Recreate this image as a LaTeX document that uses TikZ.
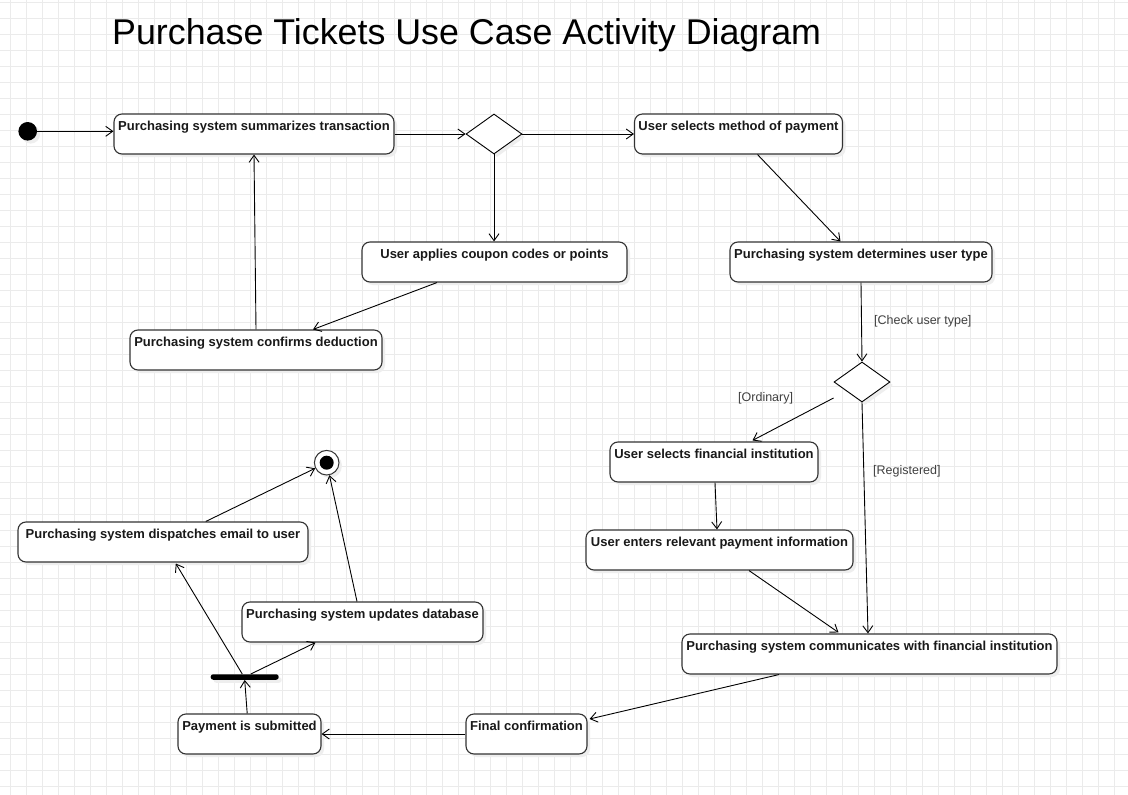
\documentclass[tikz,border=0pt]{standalone}
\usepackage{fontspec}
\setmainfont{Liberation Sans}
\usetikzlibrary{arrows.meta,shapes.geometric,shadows,calc}
\definecolor{gridc}{HTML}{EBEBEB}
\definecolor{boxc}{HTML}{333333}
\definecolor{shadc}{HTML}{EEEEEE}
\definecolor{labc}{HTML}{404040}
\tikzset{
  act/.style={draw=boxc, line width=1.1pt, fill=white, rounded corners=8pt,
    inner sep=0pt, minimum height=40pt, text height=16pt, text depth=24pt,
    font=\fontsize{13}{15}\selectfont\bfseries, text=black!90,
    drop shadow={shadow xshift=3pt, shadow yshift=-3pt, fill=shadc, opacity=1}},
  dec/.style={diamond, draw=black, line width=0.9pt, fill=white, aspect=1.4,
    minimum width=56pt, minimum height=40pt, inner sep=0pt,
    drop shadow={shadow xshift=3pt, shadow yshift=-3pt, fill=shadc, opacity=1}},
  forkbar/.style={rectangle, fill=black, minimum width=68pt, minimum height=5.5pt,
    inner sep=0pt, rounded corners=2.5pt,
    drop shadow={shadow xshift=3pt, shadow yshift=-3pt, fill=shadc, opacity=1}},
  startnode/.style={circle, fill=black, minimum size=18.6pt, inner sep=0pt,
    drop shadow={shadow xshift=3pt, shadow yshift=-3pt, fill=shadc, opacity=1}},
  endnode/.style={circle, draw=boxc, line width=1pt, fill=white, minimum size=24.6pt, inner sep=0pt,
    drop shadow={shadow xshift=3pt, shadow yshift=-3pt, fill=shadc, opacity=1}},
  flow/.style={-{Straight Barb[length=7pt,width=10pt]}, line width=0.9pt, draw=black},
  guard/.style={anchor=base west, inner sep=0pt, text=labc, font=\fontsize{12.5}{14}\selectfont},
  gridline/.style={draw=gridc, line width=0.8pt}
}
\begin{document}
\begin{tikzpicture}[x=1pt,y=-1pt]
\useasboundingbox (0,0) rectangle (1128,795);
\fill[white] (0,0) rectangle (1128,795);
\foreach \gx in {10,26,...,1128} {\draw[gridline] (\gx,0) -- (\gx,795);}
\foreach \gy in {2.7,18.7,...,795} {\draw[gridline] (0,\gy) -- (1128,\gy);}

\node[anchor=base west, inner sep=0pt, font=\fontsize{35.8}{40}\selectfont] (title) at (112,44) {Purchase Tickets Use Case Activity Diagram};

\node[startnode] (start) at (27.7,131.3) {};
\node[act, minimum width=280pt] (A) at (254,134) {Purchasing system summarizes transaction};
\node[dec] (D1) at (494,134) {};
\node[act, minimum width=208pt] (B) at (738.5,134) {User selects method of payment};
\node[act, minimum width=265pt] (C) at (494.5,262) {User applies coupon codes or points};
\node[act, minimum width=252pt] (Dd) at (256,350) {Purchasing system confirms deduction};
\node[act, minimum width=262pt] (E) at (861,262) {Purchasing system determines user type};
\node[dec] (D2) at (862,382) {};
\node[act, minimum width=208pt] (F) at (714,462) {User selects financial institution};
\node[act, minimum width=267pt] (G) at (719.5,550) {User enters relevant payment information};
\node[act, minimum width=375pt] (H) at (869.5,654) {Purchasing system communicates with financial institution};
\node[act, minimum width=121pt] (I) at (526.5,734) {Final confirmation};
\node[act, minimum width=143pt] (J) at (249.5,734) {Payment is submitted};
\node[forkbar] (fork) at (244.7,677) {};
\node[act, minimum width=241pt] (K) at (362.5,622) {Purchasing system updates database};
\node[act, minimum width=290pt] (L) at (163,542) {Purchasing system dispatches email to user};
\node[endnode] (end) at (326.7,462.7) {};
\fill (end) circle (7pt);

\node[guard] (g1) at (874,324.7) {[Check user type]};
\node[guard] (g2) at (738,401.5) {[Ordinary]};
\node[guard] (g3) at (873,474.7) {[Registered]};

\draw[flow] (start.east) -- (start.east -| A.west);
\draw[flow] (A.east) -- (D1.west);
\draw[flow] (D1.east) -- (B.west);
\draw[flow] (D1.south) -- (D1.south |- C.north);
\draw[flow] ([xshift=-57.5pt]C.south) -- ([xshift=57pt]Dd.north);
\draw[flow] (Dd.north) -- (A.south);
\draw[flow] ([xshift=19pt]B.south) -- ([xshift=-20.5pt]E.north);
\draw[flow] (E.south) -- (D2.north);
\draw[flow] ([yshift=-16pt]D2.west) -- ([xshift=38.5pt,yshift=1pt]F.north);
\draw[flow] (D2.south) -- ([xshift=-1.5pt]H.north);
\draw[flow] ([xshift=1pt]F.south) -- ([xshift=-2.5pt]G.north);
\draw[flow] ([xshift=29.5pt]G.south) -- ([xshift=-31pt,yshift=1pt]H.north);
\draw[flow] ([xshift=-90.5pt]H.south) -- ([xshift=2pt,yshift=15pt]I.east);
\draw[flow] (I.west) -- (J.east);
\draw[flow] ([xshift=-2.3pt]J.north) -- (fork.south);
\draw[flow] ([xshift=-2.4pt]fork.north) -- ([xshift=12.8pt,yshift=-1pt]L.south);
\draw[flow] ([xshift=6pt]fork.north) -- ([xshift=-47pt]K.south);
\draw[flow] ([xshift=42.8pt]L.north) -- (end);
\draw[flow] ([xshift=-5.5pt]K.north) -- (end);
\end{tikzpicture}
\end{document}
